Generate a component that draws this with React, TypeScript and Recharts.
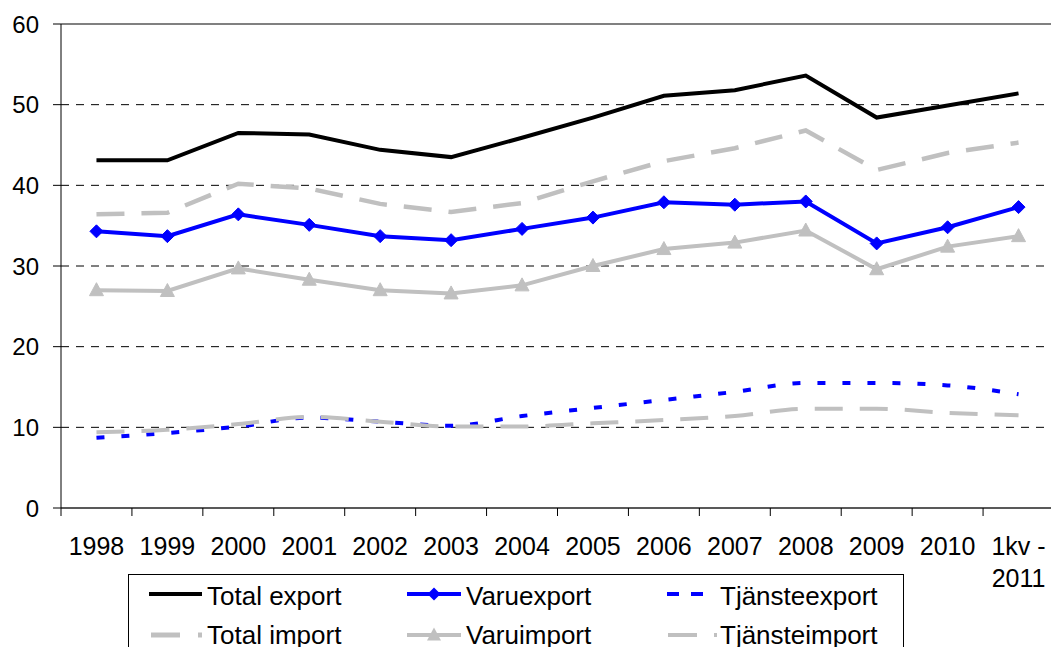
import React from 'react';
import { LineChart, Line, XAxis, YAxis, CartesianGrid, ReferenceLine } from 'recharts';

const categories = ['1998', '1999', '2000', '2001', '2002', '2003', '2004', '2005', '2006', '2007', '2008', '2009', '2010', '1kv - 2011'];
const totalExport = [43.1, 43.1, 46.5, 46.3, 44.4, 43.5, 45.9, 48.4, 51.1, 51.8, 53.6, 48.4, 49.9, 51.4];
const totalImport = [36.4, 36.6, 40.2, 39.6, 37.7, 36.7, 37.8, 40.5, 43.0, 44.6, 46.8, 41.9, 44.0, 45.3];
const varuExport = [34.3, 33.7, 36.4, 35.1, 33.7, 33.2, 34.6, 36.0, 37.9, 37.6, 38.0, 32.8, 34.8, 37.3];
const varuImport = [27.0, 26.9, 29.7, 28.3, 27.0, 26.6, 27.6, 30.0, 32.1, 32.9, 34.4, 29.6, 32.4, 33.7];
const tjansteExport = [8.7, 9.3, 10.1, 11.2, 10.7, 10.2, 11.4, 12.4, 13.4, 14.4, 15.5, 15.5, 15.2, 14.1];
const tjansteImport = [9.4, 9.7, 10.4, 11.3, 10.7, 10.1, 10.1, 10.5, 10.9, 11.4, 12.3, 12.3, 11.8, 11.5];
const yTicks = [0, 10, 20, 30, 40, 50, 60];

const data = categories.map((c, i) => ({
  name: c,
  totalExport: totalExport[i],
  totalImport: totalImport[i],
  varuExport: varuExport[i],
  varuImport: varuImport[i],
  tjansteExport: tjansteExport[i],
  tjansteImport: tjansteImport[i],
}));

const FONT = '"Liberation Sans", Arial, sans-serif';
const GRAY = '#C0C0C0';
const BLUE = '#0000FF';

const Diamond = (props: any) => {
  const { cx, cy, index } = props;
  if (cx == null || cy == null) return <g key={`d${index}`} />;
  const r = 6.5;
  return <polygon key={`d${index}`} points={`${cx},${cy - r} ${cx + r},${cy} ${cx},${cy + r} ${cx - r},${cy}`} fill={BLUE} stroke={BLUE} />;
};

const Triangle = (props: any) => {
  const { cx, cy, index } = props;
  if (cx == null || cy == null) return <g key={`t${index}`} />;
  return <polygon key={`t${index}`} points={`${cx},${cy - 7.5} ${cx + 7},${cy + 5.5} ${cx - 7},${cy + 5.5}`} fill={GRAY} stroke={GRAY} />;
};

const XTick = (props: any) => {
  const { x, y, payload, width } = props;
  const half = payload && payload.offset ? payload.offset : (width ? width / categories.length / 2 : 35.45);
  const label: string = payload.value;
  const parts = label === '1kv - 2011' ? ['1kv -', '2011'] : [label];
  return (
    <g>
      <line x1={x - half} x2={x - half} y1={y - 10} y2={y - 2} stroke="#000" strokeWidth={1} />
      <text x={x} y={y + 37} textAnchor="middle" fontFamily={FONT} fontSize={25} fill="#000">
        {parts.map((p, i) => (
          <tspan key={i} x={x} dy={i === 0 ? 0 : 32}>{p}</tspan>
        ))}
      </text>
    </g>
  );
};

const LegendOverlay = () => {
  const r1 = 594;
  const r2 = 635;
  const b1 = 605;
  const b2 = 644;
  const txt = { fontFamily: FONT, fontSize: 26, fill: '#000' } as const;
  return (
    <svg width={1051} height={647} style={{ position: 'absolute', left: 0, top: 0, pointerEvents: 'none' }}>
      <rect x={128.5} y={574.5} width={775} height={110} fill="#fff" stroke="#000" strokeWidth={1} />
      <line x1={149} x2={202} y1={r1} y2={r1} stroke="#000" strokeWidth={4} />
      <text x={207} y={b1} {...txt}>Total export</text>
      <line x1={407} x2={461} y1={r1} y2={r1} stroke={BLUE} strokeWidth={4} />
      <polygon points={`434,${r1 - 6.5} 440.5,${r1} 434,${r1 + 6.5} 427.5,${r1}`} fill={BLUE} />
      <text x={466} y={b1} {...txt}>Varuexport</text>
      <line x1={667} x2={703} y1={r1} y2={r1} stroke={BLUE} strokeWidth={4} strokeDasharray="12 12" />
      <text x={720} y={b1} {...txt}>Tjänsteexport</text>
      <line x1={151} x2={180} y1={r2} y2={r2} stroke={GRAY} strokeWidth={5} />
      <line x1={198} x2={202} y1={r2} y2={r2} stroke={GRAY} strokeWidth={5} />
      <text x={207} y={b2} {...txt}>Total import</text>
      <line x1={407} x2={461} y1={r2} y2={r2} stroke={GRAY} strokeWidth={4} />
      <polygon points={`434,${r2 - 7.5} 441,${r2 + 5.5} 427,${r2 + 5.5}`} fill={GRAY} />
      <text x={466} y={b2} {...txt}>Varuimport</text>
      <line x1={668} x2={697} y1={r2} y2={r2} stroke={GRAY} strokeWidth={4} />
      <line x1={714} x2={717} y1={r2} y2={r2} stroke={GRAY} strokeWidth={4} />
      <text x={720} y={b2} {...txt}>Tjänsteimport</text>
    </svg>
  );
};

export default function App() {
  return (
    <div style={{ position: 'absolute', left: 0, top: 0, width: 1051, height: 647, overflow: 'hidden', background: '#fff' }}>
      <LineChart width={1054} height={647} data={data} margin={{ top: 24, right: 0, left: 0, bottom: 79 }}>
        <CartesianGrid vertical={false} stroke="#000" strokeDasharray="8 7" strokeWidth={1} />
        <ReferenceLine y={60} stroke="#808080" strokeWidth={2} />
        <XAxis
          dataKey="name"
          scale="band"
          height={60}
          interval={0}
          axisLine={{ stroke: '#595959', strokeWidth: 2 }}
          tickLine={false}
          tickSize={8}
          tickMargin={2}
          tick={<XTick />}
        />
        <YAxis
          width={61}
          domain={[0, 60]}
          ticks={yTicks}
          interval={0}
          axisLine={{ stroke: '#000', strokeWidth: 1 }}
          tickLine={{ stroke: '#000', strokeWidth: 1 }}
          tickSize={8}
          tickMargin={14}
          tick={{ fontFamily: FONT, fontSize: 24, fill: '#000' }}
        />
        <Line dataKey="totalExport" type="linear" stroke="#000" strokeWidth={4} dot={false} isAnimationActive={false} />
        <Line dataKey="varuExport" type="linear" stroke={BLUE} strokeWidth={4} dot={Diamond} activeDot={false} isAnimationActive={false} />
        <Line dataKey="tjansteExport" type="monotone" stroke={BLUE} strokeWidth={4} strokeDasharray="8 17" dot={false} isAnimationActive={false} />
        <Line dataKey="totalImport" type="linear" stroke={GRAY} strokeWidth={4.5} strokeDasharray="28 17" dot={false} isAnimationActive={false} />
        <Line dataKey="varuImport" type="linear" stroke={GRAY} strokeWidth={4} dot={Triangle} activeDot={false} isAnimationActive={false} />
        <Line dataKey="tjansteImport" type="monotone" stroke={GRAY} strokeWidth={4} strokeDasharray="28 17" dot={false} isAnimationActive={false} />
      </LineChart>
      <LegendOverlay />
    </div>
  );
}
